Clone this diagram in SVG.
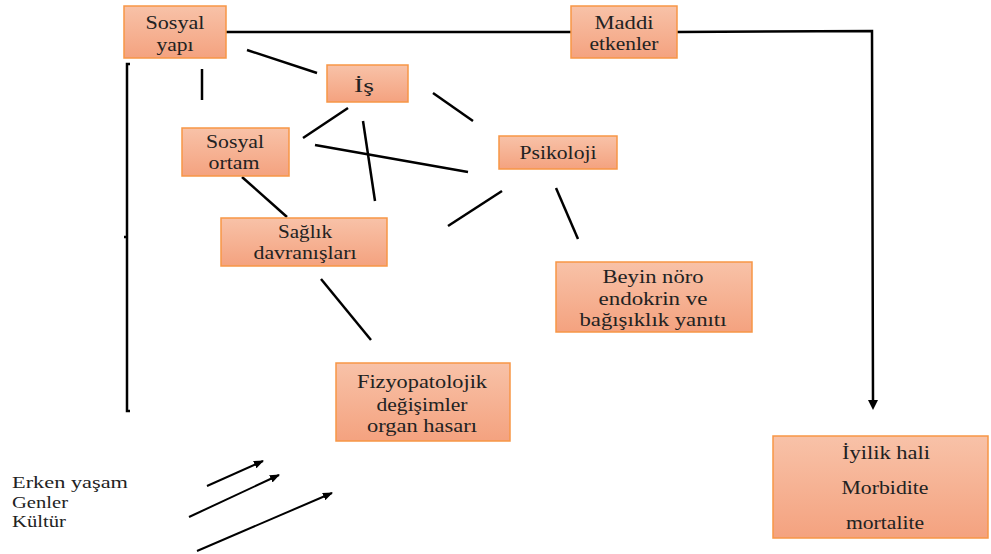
<svg xmlns="http://www.w3.org/2000/svg" width="991" height="554" viewBox="0 0 991 554" font-family="Liberation Serif, serif">
<defs>
<linearGradient id="g" x1="0" y1="0" x2="0" y2="1">
<stop offset="0" stop-color="#F8C2A8"/>
<stop offset="1" stop-color="#F4A27F"/>
</linearGradient>
<marker id="ah" markerWidth="10" markerHeight="8" refX="9" refY="4" orient="auto" markerUnits="userSpaceOnUse">
<path d="M0,0 L10,4 L0,8 Z" fill="#000"/>
</marker>
</defs>
<style>
.box{fill:url(#g);stroke:#F79646;stroke-width:1.5}
text{font-family:"Liberation Serif",serif;font-size:18px;fill:#222;text-anchor:middle}
.s{text-anchor:start;font-size:17px}
.l{stroke:#000;stroke-width:2.5;fill:none}
.a{stroke:#000;stroke-width:2;fill:none;marker-end:url(#ah)}
</style>
<rect width="991" height="554" fill="#fff"/>
<g id="connectors">
<polyline class="l" points="226,32 571,32"/>
<polyline class="l" points="677,32 872,31 873,400" stroke-width="2"/>
<path d="M868,400 L878,400 L873,410 Z" fill="#000"/>
<line class="l" x1="247" y1="50" x2="317" y2="73"/>
<line class="l" x1="202" y1="69" x2="202" y2="100"/>
<line class="l" x1="348" y1="108" x2="303" y2="138"/>
<line class="l" x1="363" y1="121" x2="375" y2="201"/>
<line class="l" x1="433" y1="93" x2="473" y2="121"/>
<line class="l" x1="315" y1="145" x2="468" y2="172"/>
<line class="l" x1="242" y1="177" x2="287" y2="217"/>
<line class="l" x1="502" y1="191" x2="448" y2="226"/>
<line class="l" x1="556" y1="188" x2="578" y2="239"/>
<line class="l" x1="321" y1="279" x2="371" y2="340"/>
<polyline class="l" points="130,64 127,64 127,411 130,411"/>
<line class="l" x1="124" y1="237" x2="127" y2="237" stroke-width="2"/>
<line class="a" x1="207" y1="486" x2="263" y2="461"/>
<line class="a" x1="189" y1="517" x2="279" y2="475"/>
<line class="a" x1="197" y1="551" x2="332" y2="493"/>
</g>
<g id="sosyal-yapi"><rect class="box" x="124" y="6" width="102" height="52"/><text x="175" y="29" textLength="59" lengthAdjust="spacingAndGlyphs">Sosyal</text><text x="175" y="51" textLength="37" lengthAdjust="spacingAndGlyphs">yapı</text></g>
<g id="maddi"><rect class="box" x="571" y="6" width="106" height="52"/><text x="624" y="29" textLength="59" lengthAdjust="spacingAndGlyphs">Maddi</text><text x="624" y="50" textLength="69" lengthAdjust="spacingAndGlyphs">etkenler</text></g>
<g id="is"><rect class="box" x="327" y="65" width="81" height="37"/><text x="364" y="92" textLength="20" lengthAdjust="spacingAndGlyphs">İş</text></g>
<g id="sosyal-ortam"><rect class="box" x="182" y="128" width="107" height="48"/><text x="235" y="148" textLength="58" lengthAdjust="spacingAndGlyphs">Sosyal</text><text x="234" y="169" textLength="51" lengthAdjust="spacingAndGlyphs">ortam</text></g>
<g id="psikoloji"><rect class="box" x="499" y="136" width="118" height="33"/><text x="558" y="159" textLength="77" lengthAdjust="spacingAndGlyphs">Psikoloji</text></g>
<g id="saglik"><rect class="box" x="221" y="218" width="166" height="48"/><text x="305" y="238" textLength="54" lengthAdjust="spacingAndGlyphs">Sağlık</text><text x="305" y="259" textLength="103" lengthAdjust="spacingAndGlyphs">davranışları</text></g>
<g id="beyin"><rect class="box" x="556" y="262" width="196" height="70"/><text x="653" y="283" textLength="101" lengthAdjust="spacingAndGlyphs">Beyin  nöro</text><text x="653" y="305" textLength="109" lengthAdjust="spacingAndGlyphs">endokrin  ve</text><text x="653" y="326" textLength="147" lengthAdjust="spacingAndGlyphs">bağışıklık  yanıtı</text></g>
<g id="fizyo"><rect class="box" x="336" y="363" width="174" height="78"/><text x="422" y="388" textLength="130" lengthAdjust="spacingAndGlyphs">Fizyopatolojik</text><text x="422" y="411" textLength="91" lengthAdjust="spacingAndGlyphs">değişimler</text><text x="422" y="432" textLength="110" lengthAdjust="spacingAndGlyphs">organ  hasarı</text></g>
<g id="iyilik"><rect class="box" x="773" y="436" width="215" height="102"/><text x="886" y="459" textLength="88" lengthAdjust="spacingAndGlyphs">İyilik   hali</text><text x="885" y="494" textLength="87" lengthAdjust="spacingAndGlyphs">Morbidite</text><text x="885" y="529" textLength="78" lengthAdjust="spacingAndGlyphs">mortalite</text></g>
<g id="faktorler"><text class="s" x="12" y="488" textLength="116" lengthAdjust="spacingAndGlyphs">Erken  yaşam</text><text class="s" x="12" y="508" textLength="56" lengthAdjust="spacingAndGlyphs">Genler</text><text class="s" x="12" y="527" textLength="54" lengthAdjust="spacingAndGlyphs">Kültür</text></g>
</svg>
